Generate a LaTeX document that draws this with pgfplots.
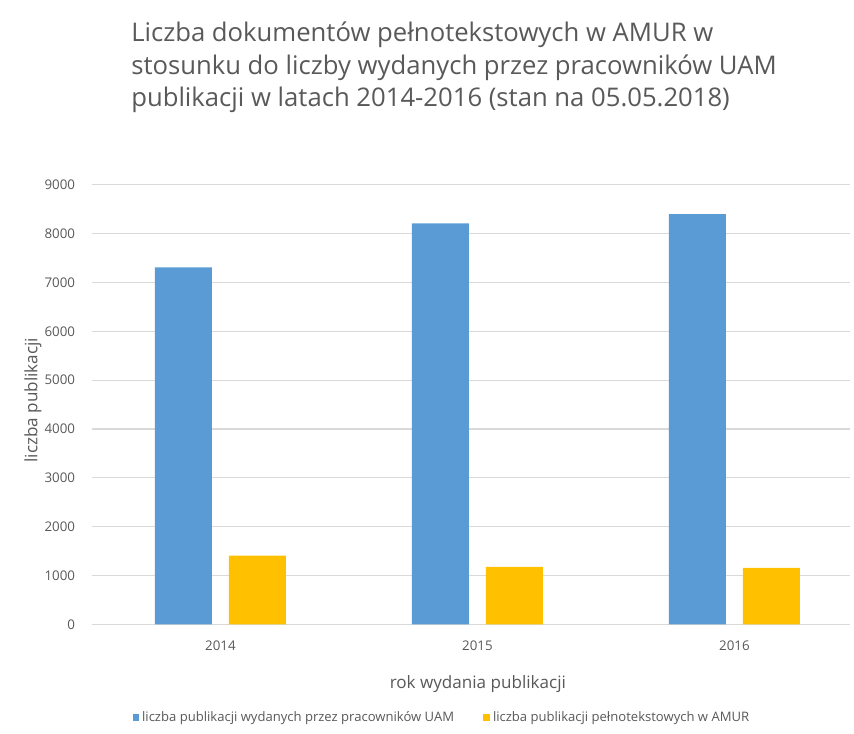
\documentclass[border=0pt]{standalone}
\usepackage{pgfplots}
\pgfplotsset{compat=1.18}
\usepackage{fontspec}
\setmainfont{Open Sans}
\definecolor{cblue}{HTML}{5B9BD5}
\definecolor{cyellow}{HTML}{FFC000}
\definecolor{ctext}{HTML}{595959}
\definecolor{cgrid}{HTML}{D9D9D9}
\begin{document}
\begin{tikzpicture}
\path[use as bounding box] (0,0) rectangle (640.5pt,550.5pt);
\node[anchor=center, align=left, text=ctext, inner sep=0pt,
  font=\fontsize{19.25}{24.4}\selectfont] at (340.5pt,500pt)
  {Liczba dokumentów pełnotekstowych w AMUR w\\
   stosunku do liczby wydanych przez pracowników UAM\\
   publikacji w latach 2014-2016 (stan na 05.05.2018)};
\begin{axis}[
  at={(69pt,82.3pt)}, anchor=south west,
  scale only axis, width=568.5pt, height=329.5pt,
  xmin=-0.5, xmax=2.45, ymin=0, ymax=9000,
  ytick={0,1000,...,9000},
  xtick={0,1,2}, xticklabels={2014,2015,2016},
  axis line style={draw=none},
  major tick length=0pt,
  ymajorgrids, grid style={cgrid, line width=0.8pt},
  tick label style={text=ctext, font=\fontsize{10}{12}\selectfont},
  /pgf/number format/assume math mode=true,
  /pgf/number format/1000 sep={},
  yticklabel style={inner sep=0pt, xshift=-12.5pt},
  xticklabel style={inner sep=0pt, yshift=-12pt},
  xlabel={rok wydania publikacji},
  ylabel={liczba publikacji},
  xlabel style={at={(axis description cs:0.509,-0.1366)}, anchor=center, text=ctext, font=\fontsize{12.8}{15}\selectfont},
  ylabel style={at={(axis description cs:-0.0778,0.51)}, anchor=center, text=ctext, font=\fontsize{12.8}{15}\selectfont},
  legend style={at={(axis description cs:0.462,-0.2117)}, anchor=center, draw=none,
    legend columns=2, font=\fontsize{9.8}{12}\selectfont, text=ctext,
    /tikz/every even column/.append style={column sep=20pt}},
  legend image code/.code={\fill[#1] (0pt,-2.6pt) rectangle (5.2pt,2.6pt);},
  bar width=0.222,
]
\addplot[ybar, fill=cblue, draw=none, bar shift=-0.144] coordinates {(0,7310) (1,8210) (2,8400)};
\addplot[ybar, fill=cyellow, draw=none, bar shift=0.144] coordinates {(0,1405) (1,1175) (2,1155)};
\legend{liczba publikacji wydanych przez pracowników UAM, liczba publikacji pełnotekstowych w AMUR}
\end{axis}
\end{tikzpicture}
\end{document}
